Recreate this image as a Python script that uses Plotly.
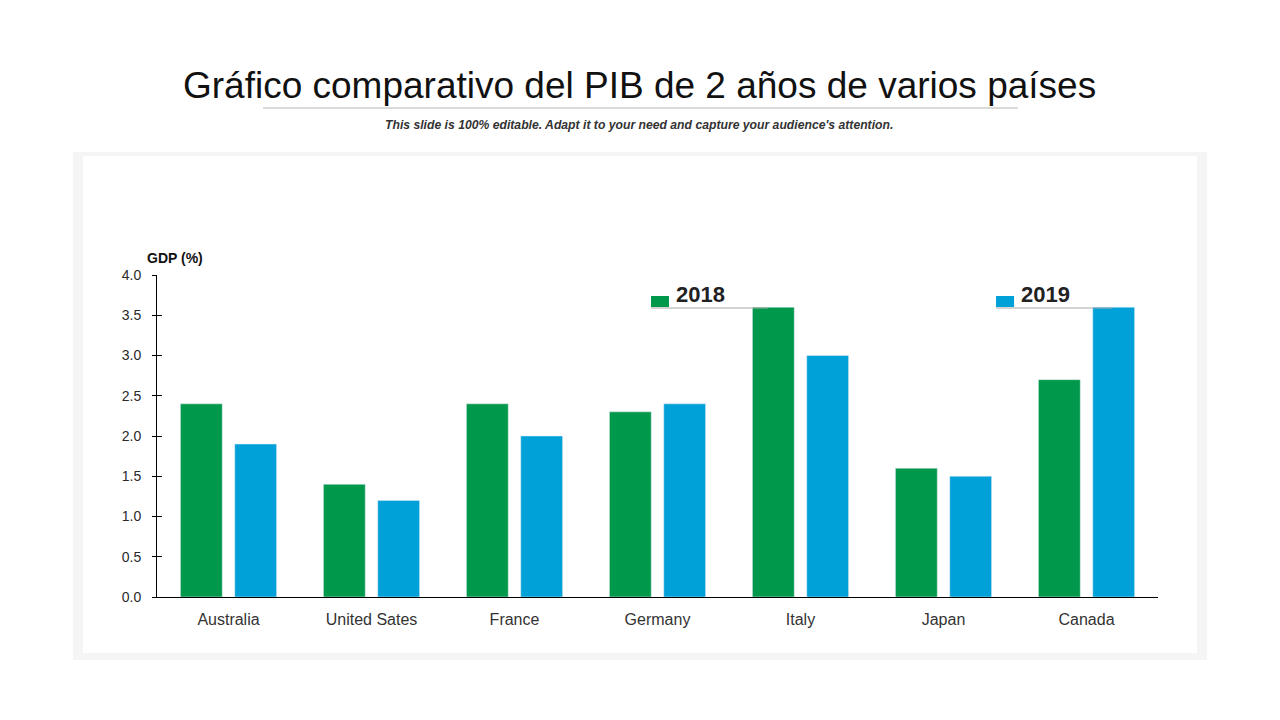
import plotly.graph_objects as go

countries = ["Australia", "United Sates", "France", "Germany", "Italy", "Japan", "Canada"]
gdp_2018 = [2.4, 1.4, 2.4, 2.3, 3.6, 1.6, 2.7]
gdp_2019 = [1.9, 1.2, 2.0, 2.4, 3.0, 1.5, 3.6]
series_names = ["2018", "2019"]
y_ticks = [0, 0.5, 1.0, 1.5, 2.0, 2.5, 3.0, 3.5, 4.0]

GREEN = "#00984A"
BLUE = "#00A0D8"
FONT = "Liberation Sans, Arial, sans-serif"

fig = go.Figure()
fig.add_trace(go.Bar(x=countries, y=gdp_2018, name=series_names[0], marker_color=GREEN))
fig.add_trace(go.Bar(x=countries, y=gdp_2019, name=series_names[1], marker_color=BLUE))

# page is offset by the 8px body margin, compensate in margins
fig.update_layout(
    width=1280, height=720,
    paper_bgcolor="white", plot_bgcolor="white",
    margin=dict(l=149, r=130, t=267, b=131),
    barmode="group", bargap=0.24, bargroupgap=0.23,
    font=dict(family=FONT, color="#333333"),
    showlegend=False,
    xaxis=dict(showline=True, linecolor="black", linewidth=1, ticks="",
               tickfont=dict(size=16, color="#333333"), ticklabelstandoff=8,
               showgrid=False, zeroline=False),
    yaxis=dict(range=[0, 4], tickvals=y_ticks, tickformat=".1f", showline=True,
               linecolor="black", linewidth=1, ticks="outside", ticklen=4,
               tickcolor="black", tickfont=dict(size=14, color="#2a2a2a"),
               ticklabelstandoff=8, showgrid=False, zeroline=False),
    yaxis2=dict(range=[0, 4], tickvals=y_ticks, overlaying="y", side="left",
                ticks="inside", ticklen=5, tickcolor="black", showticklabels=False,
                showline=False, showgrid=False, zeroline=False),
)
# invisible helper trace so yaxis2 is drawn (inside ticks crossing the axis line)
fig.add_trace(go.Scatter(x=[countries[0]], y=[0], yaxis="y2", mode="markers",
                         marker=dict(opacity=0), hoverinfo="skip", showlegend=False))

# card panel (light grey frame with white inner card)
fig.add_shape(type="rect", xref="paper", yref="paper", layer="below",
              x0=-0.0839, x1=1.049, y0=-0.1957, y1=1.382,
              fillcolor="#F5F5F5", line=dict(width=0))
fig.add_shape(type="rect", xref="paper", yref="paper", layer="below",
              x0=-0.0739, x1=1.039, y0=-0.1739, y1=1.3696,
              fillcolor="white", line=dict(width=0))
# title underline
fig.add_shape(type="line", xref="paper", yref="paper",
              x0=0.106, x1=0.860, y0=1.519, y1=1.519,
              line=dict(color="#CCCCCC", width=1.5))

# legend (custom, slide style)
legend_colors = [GREEN, BLUE]
legend_x = [0.4935, 0.8382]
for name, col, lx in zip(series_names, legend_colors, legend_x):
    fig.add_shape(type="rect", xref="paper", yref="paper",
                  x0=lx, x1=lx + 0.018, y0=0.9006, y1=0.9348,
                  fillcolor=col, line=dict(width=0))
    fig.add_shape(type="line", xref="paper", yref="paper",
                  x0=lx, x1=lx + 0.1165, y0=0.8975, y1=0.8975,
                  line=dict(color="#AAAAAA", width=1.2))
    fig.add_annotation(text="<b>" + name + "</b>", xref="paper", yref="paper",
                       x=lx + 0.023, y=0.938, xanchor="left", yanchor="middle",
                       showarrow=False, font=dict(size=22, color="#222222", family=FONT))

fig.add_annotation(text="Gráfico comparativo del PIB de 2 años de varios países",
                   xref="paper", yref="paper", x=0.4825, y=1.59, xanchor="center", yanchor="middle",
                   showarrow=False, font=dict(size=37, color="#111111", family=FONT))
fig.add_annotation(text="<b><i>This slide is 100% editable. Adapt it to your need and capture your audience's attention.</i></b>",
                   xref="paper", yref="paper", x=0.482, y=1.466, xanchor="center", yanchor="middle",
                   showarrow=False, font=dict(size=12.2, color="#333333", family=FONT))
fig.add_annotation(text="<b>GDP (%)</b>", xref="paper", yref="paper", x=0.0175, y=1.052,
                   xanchor="center", yanchor="middle", showarrow=False,
                   font=dict(size=14, color="#111111", family=FONT))

fig.write_html("out.html")
